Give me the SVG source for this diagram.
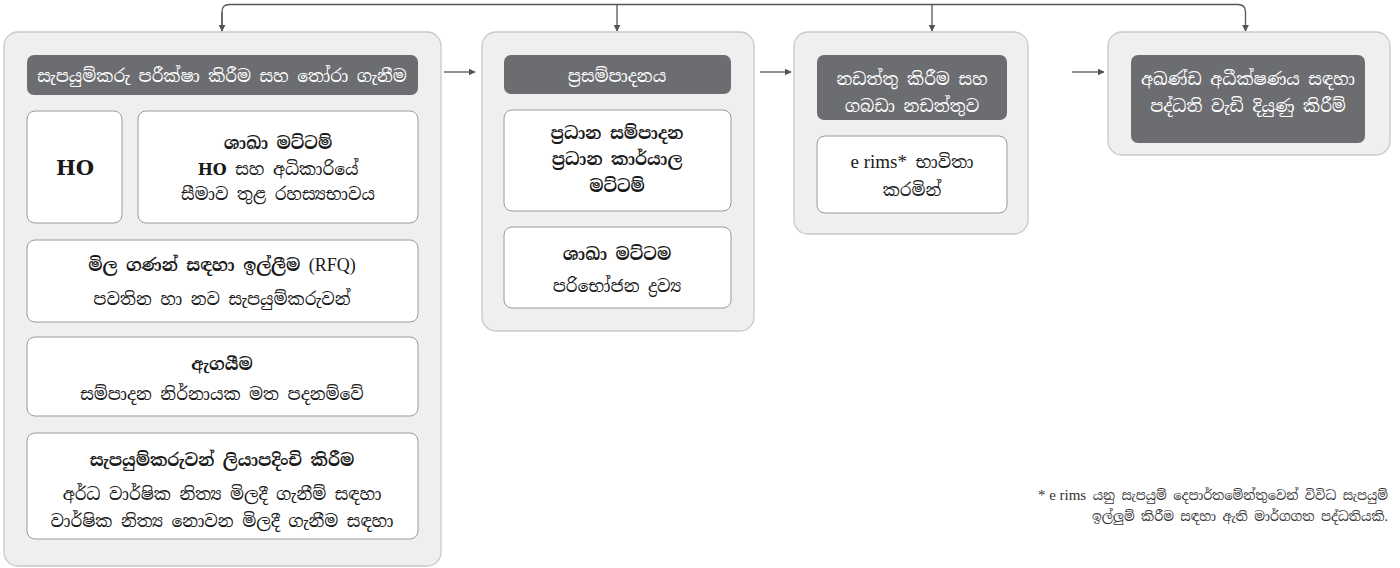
<svg xmlns="http://www.w3.org/2000/svg" width="1400" height="568" viewBox="0 0 1400 568">
<defs>
<marker id="ah" viewBox="0 0 10 10" refX="9" refY="5" markerWidth="7" markerHeight="7" markerUnits="userSpaceOnUse" orient="auto"><path d="M0,0 L10,5 L0,10 z" fill="#555"/></marker>
<style>
.panel{fill:#efefef;stroke:#c9c9c9;stroke-width:1.3}
.head{fill:#6c6d70}
.card{fill:#fff;stroke:#9a9a9a;stroke-width:1}
text{font-family:"Noto Serif Sinhala","Noto Sans Sinhala","Liberation Serif",serif;text-anchor:middle;fill:#1a1a1a}
.ht{fill:#fff;font-size:17px}
.b{font-size:17px;font-weight:bold}
.r{font-size:17px}
.lat{font-family:"Liberation Serif","DejaVu Serif",serif}
.ho{font-family:"DejaVu Serif","Liberation Serif",serif;font-weight:bold}
.fn{font-size:13px;text-anchor:end;fill:#333}
.con{fill:none;stroke:#555;stroke-width:1.3}
</style>
</defs>
<g id="connectors">
<path class="con" d="M222,31 V12 Q222,4.5 229.5,4.5 H1238 Q1245.5,4.5 1245.5,12 V31" marker-end="url(#ah)"/>
<path class="con" d="M222,12 V31" marker-end="url(#ah)"/>
<path class="con" d="M617,4.5 V31" marker-end="url(#ah)"/>
<path class="con" d="M932,4.5 V31" marker-end="url(#ah)"/>
<path class="con" d="M444,72 H475" marker-end="url(#ah)"/>
<path class="con" d="M760,72 H791" marker-end="url(#ah)"/>
<path class="con" d="M1072,72 H1104" marker-end="url(#ah)"/>
</g>
<g id="panel1">
<rect class="panel" x="4" y="32" width="437" height="534" rx="14"/>
<rect class="head" x="27" y="55" width="391" height="40" rx="7"/>
<text class="ht" x="222" y="82">සැපයුම්කරු පරීක්ෂා කිරීම සහ තෝරා ගැනීම</text>
</g>
<g id="ho">
<rect class="card" x="27" y="111" width="95" height="112" rx="8"/>
<text class="ho" x="75" y="175" font-size="21">HO</text>
</g>
<g id="branch">
<rect class="card" x="138" y="111" width="280" height="112" rx="8"/>
<text class="b" x="278" y="149">ශාඛා මට්ටම්</text>
<text class="r" x="278" y="175"><tspan class="ho" font-size="16">HO</tspan> සහ අධිකාරියේ</text>
<text class="r" x="278" y="200">සීමාව තුළ රහස්‍යභාවය</text>
</g>
<g id="rfq">
<rect class="card" x="27" y="240" width="391" height="82" rx="8"/>
<text class="b" x="222" y="271">මිල ගණන් සඳහා ඉල්ලීම <tspan class="lat" font-weight="normal" font-size="18">(RFQ)</tspan></text>
<text class="r" x="222" y="305">පවතින හා නව සැපයුම්කරුවන්</text>
</g>
<g id="rank">
<rect class="card" x="27" y="337" width="391" height="79" rx="8"/>
<text class="b" x="222" y="370">ඇගයීම</text>
<text class="r" x="222" y="400">සම්පාදන නිර්නායක මත පදනම්වේ</text>
</g>
<g id="reg">
<rect class="card" x="27" y="433" width="391" height="106" rx="8"/>
<text class="b" x="222" y="466">සැපයුම්කරුවන් ලියාපදිංචි කිරීම</text>
<text class="r" x="222" y="500">අර්ධ වාර්ෂික නිත්‍ය මිලදී ගැනීම් සඳහා</text>
<text class="r" x="222" y="527">වාර්ෂික නිත්‍ය නොවන මිලදී ගැනීම සඳහා</text>
</g>
<g id="panel2">
<rect class="panel" x="482" y="32" width="272" height="299" rx="14"/>
<rect class="head" x="504" y="55" width="227" height="39" rx="7"/>
<text class="ht" x="617" y="82">ප්‍රසම්පාදනය</text>
</g>
<g id="mainproc">
<rect class="card" x="504" y="110" width="227" height="101" rx="8"/>
<text class="b" x="617" y="139">ප්‍රධාන සම්පාදන</text>
<text class="b" x="617" y="165">ප්‍රධාන කාර්යාල</text>
<text class="b" x="617" y="192">මට්ටම්</text>
</g>
<g id="branchproc">
<rect class="card" x="504" y="227" width="227" height="81" rx="8"/>
<text class="b" x="617" y="260">ශාඛා මට්ටම</text>
<text class="r" x="617" y="292">පරිභෝජන ද්‍රව්‍ය</text>
</g>
<g id="panel3">
<rect class="panel" x="794" y="32" width="234" height="202" rx="14"/>
<rect class="head" x="817" y="55" width="190" height="65" rx="7"/>
<text class="ht" x="912" y="85">නඩත්තු කිරීම සහ</text>
<text class="ht" x="912" y="112">ගබඩා නඩත්තුව</text>
</g>
<g id="erims">
<rect class="card" x="817" y="136" width="190" height="77" rx="8"/>
<text class="r" x="912" y="168"><tspan class="lat" font-size="19">e rims*</tspan> භාවිතා</text>
<text class="r" x="912" y="196">කරමින්</text>
</g>
<g id="panel4">
<rect class="panel" x="1108" y="32" width="282" height="123" rx="14"/>
<rect class="head" x="1131" y="55" width="234" height="88" rx="7"/>
<text class="ht" x="1248" y="85">අඛණ්ඩ අධීක්ෂණය සඳහා</text>
<text class="ht" x="1248" y="112">පද්ධති වැඩි දියුණු කිරීම්</text>
</g>
<g id="footnote">
<text class="fn" x="1388" y="500"><tspan class="lat" font-size="15">* e rims</tspan> යනු සැපයුම් දෙපාර්තමේන්තුවෙන් විවිධ සැපයුම්</text>
<text class="fn" x="1388" y="521">ඉල්ලුම් කිරීම සඳහා ඇති මාර්ගගත පද්ධතියකි.</text>
</g>
</svg>
